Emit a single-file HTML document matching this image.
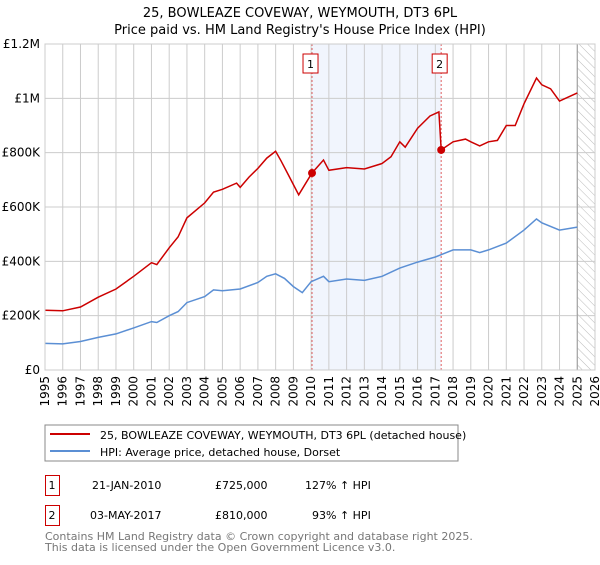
<!DOCTYPE html>
<html><head><meta charset="utf-8"><style>
body{margin:0;background:#fff;font-family:"Liberation Sans","DejaVu Sans",sans-serif;}
svg text{font-family:"DejaVu Sans","Liberation Sans",sans-serif;}
</style></head><body>
<svg id="c" width="600" height="560" xmlns="http://www.w3.org/2000/svg">
<defs><pattern id="hatch" width="6" height="6" patternUnits="userSpaceOnUse" patternTransform="rotate(-45)"><line x1="0" y1="0" x2="0" y2="6" stroke="#bbb" stroke-width="1"/></pattern></defs>
<text x="300" y="17" text-anchor="middle" font-size="13">25, BOWLEAZE COVEWAY, WEYMOUTH, DT3 6PL</text>
<text x="300" y="34" text-anchor="middle" font-size="13">Price paid vs. HM Land Registry's House Price Index (HPI)</text>
<g id="plot"></g>
<rect x="45" y="425" width="413" height="36" fill="#fff" stroke="#888"/>
<line x1="50" y1="434" x2="90" y2="434" stroke="#cc0000" stroke-width="2"/>
<text x="100" y="439" font-size="11">25, BOWLEAZE COVEWAY, WEYMOUTH, DT3 6PL (detached house)</text>
<line x1="50" y1="451" x2="90" y2="451" stroke="#5b8fd4" stroke-width="2"/>
<text x="100" y="456" font-size="11">HPI: Average price, detached house, Dorset</text>
<g>
<rect x="45.5" y="475.5" width="14" height="20" fill="none" stroke="#cc0000"/><text x="52" y="489" font-size="11" text-anchor="middle">1</text>
<text x="92" y="489" font-size="11">21-JAN-2010</text><text x="215" y="489" font-size="11">£725,000</text><text x="305" y="489" font-size="11">127% ↑ HPI</text>
<rect x="45.5" y="505.5" width="14" height="20" fill="none" stroke="#cc0000"/><text x="52" y="519" font-size="11" text-anchor="middle">2</text>
<text x="90" y="519" font-size="11">03-MAY-2017</text><text x="215" y="519" font-size="11">£810,000</text><text x="312" y="519" font-size="11">93% ↑ HPI</text>
</g>
<text x="45" y="540" font-size="11" fill="#777">Contains HM Land Registry data © Crown copyright and database right 2025.</text>
<text x="45" y="551" font-size="11" fill="#777">This data is licensed under the Open Government Licence v3.0.</text>
</svg>
<script>
const hpiYears=[1995,1996,1997,1998,1999,2000,2001,2001.3,2002,2002.5,2003,2004,2004.5,2005,2006,2007,2007.5,2008,2008.5,2009,2009.5,2010,2010.7,2011,2012,2013,2014,2015,2016,2017,2018,2019,2019.5,2020,2021,2022,2022.7,2023,2024,2025];
const hpiValues=[98,96,105,120,133,155,178,175,200,215,248,270,295,292,298,322,345,354,337,307,285,325,345,325,335,330,345,375,397,416,442,442,432,442,467,515,556,542,515,526];
const propYears=[1995,1996,1997,1998,1999,2000,2001,2001.3,2002,2002.5,2003,2004,2004.5,2005,2005.8,2006,2006.5,2007,2007.5,2008,2008.3,2008.7,2009.3,2010.05,2010.7,2011,2012,2013,2014,2014.5,2015,2015.3,2016,2016.7,2017.2,2017.33,2018,2018.7,2019,2019.5,2020,2020.5,2021,2021.5,2022,2022.7,2023,2023.5,2024,2025];
const propValues=[220,218,232,268,298,345,395,388,450,490,560,615,655,665,688,672,710,742,780,805,770,720,645,725,773,735,745,740,760,785,840,820,890,935,950,810,840,850,840,825,840,845,900,900,980,1075,1050,1035,990,1020];
const saleYears=[2010.05,2017.33];
const saleValues=[725,810];
const saleLabels=["1","2"];
const yTicks=[0,200,400,600,800,1000,1200];
const yTickLabels=["£0","£200K","£400K","£600K","£800K","£1M","£1.2M"];
const xTicks=[];for(let y=1995;y<=2026;y++)xTicks.push(y);
const X0=45,X1=595,Y0=370,Y1=44;
const xs=y=>X0+(y-1995)/(2026-1995)*(X1-X0);
const ys=v=>Y0-v/1200*(Y0-Y1);
const NS="http://www.w3.org/2000/svg",g=document.getElementById('plot');
function mk(t,a){const e=document.createElementNS(NS,t);for(const k in a)e.setAttribute(k,a[k]);g.appendChild(e);return e;}
let e=mk('rect',{x:xs(saleYears[0]),y:Y1,width:xs(saleYears[1])-xs(saleYears[0]),height:Y0-Y1,fill:'#eef3fc',opacity:0.8});


e=mk('rect',{x:xs(2025),y:Y1,width:X1-xs(2025),height:Y0-Y1,fill:'url(#hatch)'});


xTicks.forEach((t,i)=>{
 const l=mk('line',{x1:xs(t),x2:xs(t),y1:Y1,y2:Y0,stroke:'#ccc'});
 
 
 const tx=mk('text',{x:0,y:0,'font-size':12,'text-anchor':'end',transform:`translate(${xs(t)+4},${Y0+6}) rotate(-90)`});
 tx.textContent=t;
 
 
});
yTicks.forEach((t,i)=>{
 const l=mk('line',{x1:X0,x2:X1,y1:ys(t),y2:ys(t),stroke:'#ccc'});
 
 
 const tx=mk('text',{x:40,y:ys(t)+4,'font-size':12,'text-anchor':'end'});
 tx.textContent=yTickLabels[i];
 
 
});
e=mk('line',{x1:xs(2025),x2:xs(2025),y1:Y1,y2:Y0,stroke:'#999'});


saleYears.forEach((s,i)=>{
 const l=mk('line',{x1:xs(s),x2:xs(s),y1:Y1,y2:Y0,stroke:'#e06060','stroke-dasharray':'2,2'});
 
 
 const r=mk('rect',{x:xs(s)-9,y:54,width:15,height:19,fill:'#fff',stroke:'#cc0000'});
 
 
 const t=mk('text',{x:xs(s)-1.5,y:68,'font-size':11,'text-anchor':'middle'});t.textContent=saleLabels[i];
 
 
});
const path=(Y,V)=>Y.map((y,i)=>(i?'L':'M')+xs(y).toFixed(1)+','+ys(V[i]).toFixed(1)).join('');
e=mk('path',{d:path(hpiYears,hpiValues),fill:'none',stroke:'#5b8fd4','stroke-width':1.5});


e=mk('path',{d:path(propYears,propValues),fill:'none',stroke:'#cc0000','stroke-width':1.5});


saleYears.forEach((s,i)=>{
 const c=mk('circle',{cx:xs(s),cy:ys(saleValues[i]),r:4,fill:'#cc0000'});
 
 
});
e=mk('rect',{x:X0,y:Y1,width:X1-X0,height:Y0-Y1,fill:'none',stroke:'#ccc'});


</script>
</body></html>
